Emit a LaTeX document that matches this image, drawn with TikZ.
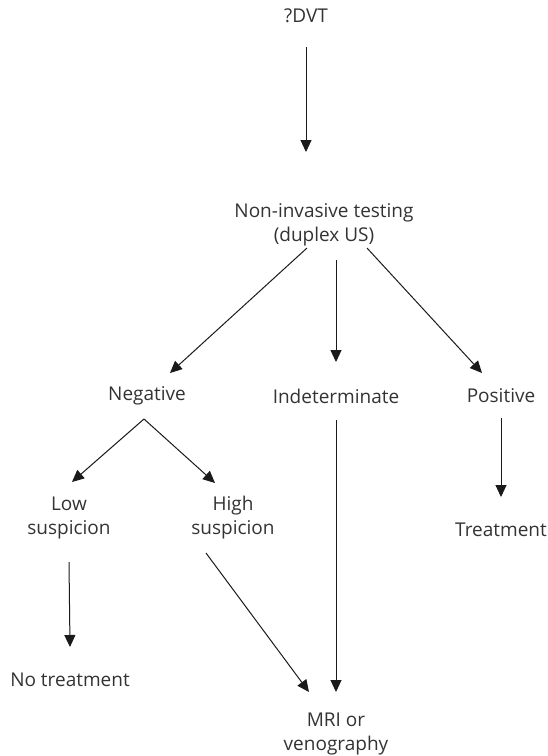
\documentclass[tikz,border=0pt]{standalone}
\usepackage{fontspec}
\setmainfont{Open Sans}
\usetikzlibrary{arrows.meta}
\begin{document}
\begin{tikzpicture}[x=1pt,y=-1pt,
  box/.style={text=textgray,align=center,font=\fontsize{19}{24}\selectfont,inner sep=0pt},
  arr/.style={-{Triangle[length=12pt,width=11pt]},line width=1pt,draw=linegray}]
\definecolor{textgray}{HTML}{333333}
\definecolor{linegray}{HTML}{1A1A1A}
\useasboundingbox (0,0) rectangle (548,756);
\node [box] (dvt) at (306,16) {?DVT};
\node [box] (nit) at (324,225) {Non-invasive testing\\(duplex US)};
\node [box] (neg) at (147,396) {Negative};
\node [box] (ind) at (336,396) {Indeterminate};
\node [box] (pos) at (501,396) {Positive};
\node [box] (low) at (69,518) {Low\\suspicion};
\node [box] (high) at (233,518) {High\\suspicion};
\node [box] (notreat) at (70,680) {No treatment};
\node [box] (treat) at (501,530) {Treatment};
\node [box] (mri) at (336,734) {MRI or\\venography};
% top
\draw [arr] ([shift={(0,31)}]dvt.center) -- ([shift={(-18,-73)}]nit.center);
\draw [arr] ([shift={(-17,23)}]nit.center) -- ([shift={(23,-23)}]neg.center);
\draw [arr] ([shift={(12,35)}]nit.center) -- ([shift={(0,-34)}]ind.center);
\draw [arr] ([shift={(43,23)}]nit.center) -- ([shift={(-19,-23)}]pos.center);
% negative branch
\draw [arr] ([shift={(-3,23)}]neg.center) -- ([shift={(3,-36)}]low.center);
\draw [arr] ([shift={(-3,23)}]neg.center) -- ([shift={(-18,-35)}]high.center);
\draw [arr] ([shift={(0,44)}]low.center) -- ([shift={(0,-33)}]notreat.center);
\draw [arr] ([shift={(-27,35)}]high.center) -- ([shift={(-27,-42)}]mri.center);
% other branches
\draw [arr] ([shift={(0,24)}]ind.center) -- ([shift={(0,-42)}]mri.center);
\draw [arr] ([shift={(0,22)}]pos.center) -- ([shift={(0,-33)}]treat.center);
\end{tikzpicture}
\end{document}
